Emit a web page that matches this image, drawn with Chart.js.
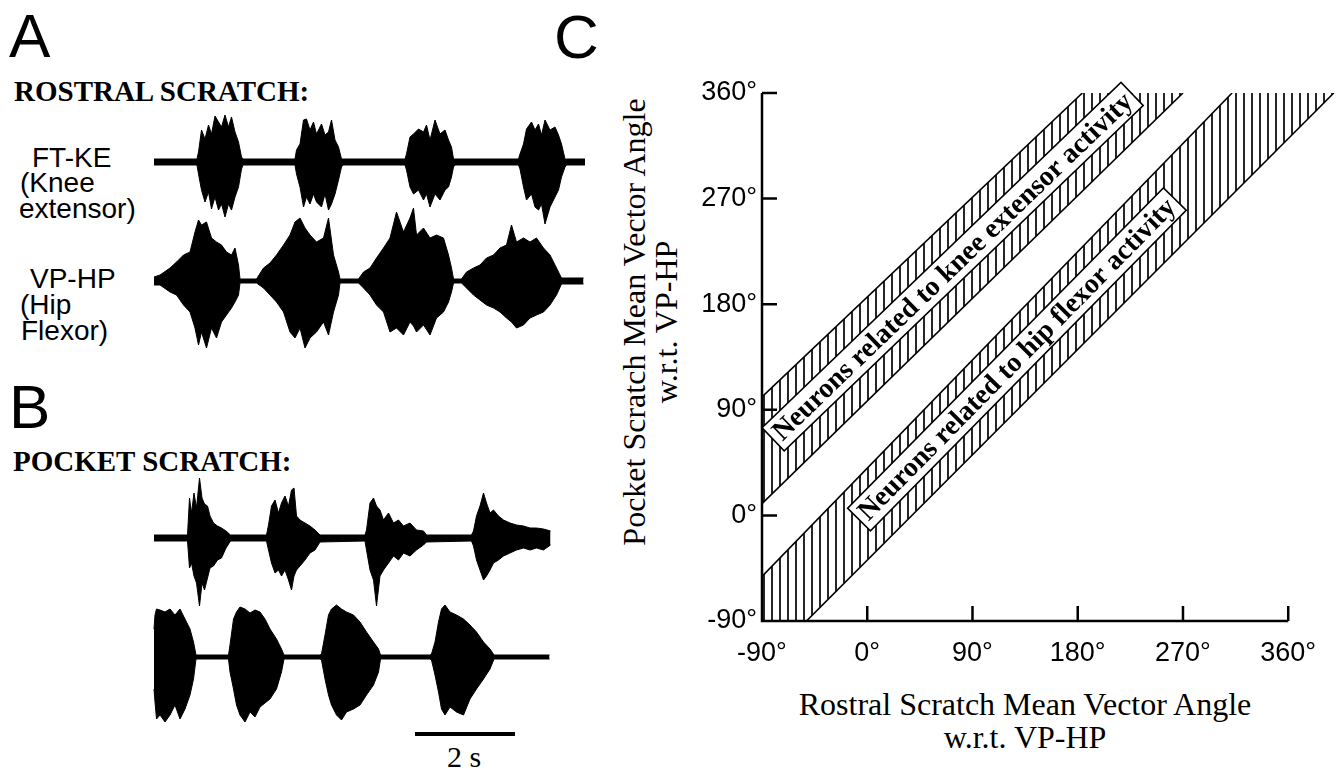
<!DOCTYPE html>
<html>
<head>
<meta charset="utf-8">
<script src="https://cdn.jsdelivr.net/npm/chart.js@4.4.1/dist/chart.umd.min.js"></script>
<style>
  html, body { margin: 0; padding: 0; background: #fff; }
  body { width: 1339px; height: 770px; position: relative; overflow: hidden; }
  canvas { position: absolute; }
  .t { position: absolute; white-space: nowrap; color: #000; line-height: 1; }
  .sans { font-family: 'Liberation Sans', Arial, sans-serif; }
  .serif { font-family: 'Liberation Serif', 'Times New Roman', serif; }
  .big { font-size: 62px; }
  .head { font-size: 29px; font-weight: bold; }
  .lab { font-size: 28px; }
</style>
</head>
<body>

<div class="t sans big" style="left:9px;top:5px">A</div>
<div class="t serif head" style="left:14px;top:77px">ROSTRAL SCRATCH:</div>
<div class="t sans lab" style="left:32px;top:144px">FT-KE</div>
<div class="t sans lab" style="left:20px;top:169px">(Knee</div>
<div class="t sans lab" style="left:19px;top:195px">extensor)</div>
<div class="t sans lab" style="left:30px;top:265px">VP-HP</div>
<div class="t sans lab" style="left:20px;top:291px">(Hip</div>
<div class="t sans lab" style="left:21px;top:317px">Flexor)</div>

<div class="t sans big" style="left:9px;top:376px">B</div>
<div class="t serif head" style="left:13px;top:447px">POCKET SCRATCH:</div>
<div class="t serif" style="left:414px;top:742px;width:100px;text-align:center;font-size:30px">2 s</div>

<div class="t sans big" style="left:554px;top:6px">C</div>
<div class="t serif" style="left:390px;top:290px;width:520px;height:64px;line-height:32px;font-size:32px;text-align:center;transform:rotate(-90deg)">Pocket Scratch Mean Vector Angle<br>w.r.t. VP-HP</div>
<div class="t serif" style="left:725px;top:688px;width:600px;line-height:33px;font-size:32px;text-align:center">Rostral Scratch Mean Vector Angle<br>w.r.t. VP-HP</div>

<canvas id="ftkeRostral" width="450" height="180" style="left:144px;top:72px"></canvas>
<canvas id="vphpRostral" width="450" height="180" style="left:144px;top:191px"></canvas>
<canvas id="ftkePocket" width="450" height="180" style="left:144px;top:448px"></canvas>
<canvas id="vphpPocket" width="450" height="180" style="left:144px;top:567px"></canvas>
<canvas id="phase" width="779" height="770" style="left:560px;top:0px"></canvas>

<script>
Chart.defaults.font.family = "'Liberation Sans', Arial, sans-serif";
Chart.defaults.color = '#000';

// EMG envelopes, time in s, amplitude in trace units (upper / lower edge of the burst)
// A: rostral scratch, FT-KE
const ftkeRostralT = [0, 0.86, 0.89, 0.95, 1.02, 1.09, 1.15, 1.22, 1.29, 1.35, 1.42, 1.49, 1.55, 1.62, 1.69, 1.75, 1.78,
  2.82, 2.85, 2.92, 2.99, 3.05, 3.12, 3.19, 3.25, 3.35, 3.42, 3.49, 3.55, 3.62, 3.69, 3.75, 3.78,
  5.02, 5.05, 5.12, 5.19, 5.29, 5.39, 5.45, 5.52, 5.62, 5.72, 5.82, 5.89, 5.95, 5.99, 6.02,
  7.29, 7.32, 7.39, 7.45, 7.55, 7.62, 7.69, 7.75, 7.82, 7.92, 8.02, 8.09, 8.15, 8.22, 8.25, 8.62];
const ftkeRostralHi = [3, 3, 10, 32, 23, 37, 28, 46, 40, 35, 47, 35, 45, 30, 20, 5, 3,
  3, 12, 18, 42, 43, 32, 40, 28, 38, 27, 30, 42, 22, 15, 3, 3,
  3, 8, 25, 28, 33, 30, 37, 22, 42, 28, 32, 22, 15, 3, 3,
  3, 8, 18, 33, 40, 32, 38, 27, 42, 32, 35, 27, 18, 3, 3, 3];
const ftkeRostralLo = [-3, -3, -12, -28, -40, -30, -47, -35, -48, -42, -55, -42, -48, -35, -25, -7, -3,
  -3, -12, -25, -45, -35, -42, -32, -40, -45, -32, -48, -42, -32, -18, -5, -3,
  -3, -8, -25, -32, -28, -38, -32, -45, -32, -38, -28, -25, -15, -5, -3,
  -3, -7, -25, -38, -32, -45, -48, -42, -62, -45, -35, -28, -15, -5, -3, -3];

// A: rostral scratch, VP-HP
const vphpRostralT = [0, 0.12, 0.32, 0.45, 0.59, 0.72, 0.82, 0.89, 0.95, 1.05, 1.15, 1.25, 1.35, 1.45, 1.55, 1.62, 1.69, 1.72,
  2.05, 2.19, 2.32, 2.45, 2.59, 2.72, 2.82, 2.92, 3.02, 3.12, 3.25, 3.39, 3.49, 3.59, 3.69, 3.72,
  4.09, 4.19, 4.32, 4.45, 4.59, 4.72, 4.85, 4.99, 5.12, 5.19, 5.25, 5.39, 5.52, 5.65, 5.79, 5.89, 5.95, 5.99,
  6.15, 6.25, 6.39, 6.52, 6.65, 6.79, 6.92, 7.05, 7.15, 7.25, 7.39, 7.52, 7.65, 7.79, 7.92, 8.05, 8.15, 8.59];
const vphpRostralHi = [4, 6, 13, 19, 26, 29, 49, 61, 56, 59, 43, 39, 36, 29, 26, 33, 16, 2,
  2, 13, 18, 26, 36, 46, 59, 63, 53, 46, 39, 43, 63, 26, 9, 2,
  2, 9, 13, 23, 33, 43, 69, 49, 63, 73, 46, 53, 43, 46, 43, 26, 13, 2,
  2, 9, 13, 16, 23, 26, 33, 36, 56, 39, 43, 39, 43, 33, 26, 13, 3, 3];
const vphpRostralLo = [-4, -4, -11, -14, -24, -31, -47, -64, -51, -67, -47, -57, -41, -34, -27, -21, -14, -2,
  -2, -7, -14, -21, -31, -51, -57, -47, -67, -57, -51, -41, -54, -31, -14, -2,
  -2, -7, -14, -24, -31, -51, -47, -54, -41, -45, -51, -44, -54, -37, -31, -21, -11, -2,
  -2, -7, -14, -19, -24, -27, -31, -37, -41, -47, -44, -37, -34, -31, -24, -14, -3, -3];

// B: pocket scratch, FT-KE
const ftkePocketT = [0, 0.67, 0.71, 0.75, 0.80, 0.85, 0.91, 0.96, 1.01, 1.07, 1.12, 1.19, 1.27, 1.35, 1.44, 1.53,
  2.25, 2.29, 2.35, 2.42, 2.49, 2.55, 2.62, 2.69, 2.75, 2.80, 2.85, 2.92, 3.02, 3.12, 3.22, 3.32,
  4.22, 4.25, 4.32, 4.39, 4.45, 4.52, 4.59, 4.69, 4.79, 4.89, 4.99, 5.12, 5.25, 5.39, 5.45,
  6.35, 6.39, 6.45, 6.52, 6.59, 6.65, 6.72, 6.79, 6.89, 6.99, 7.12, 7.25, 7.39, 7.52, 7.65, 7.79, 7.93];
const ftkePocketHi = [3, 3, 40, 25, 45, 30, 60, 40, 34, 32, 22, 15, 12, 10, 7, 3,
  3, 13, 32, 38, 25, 35, 42, 32, 48, 50, 22, 18, 15, 12, 8, 3,
  3, 8, 35, 40, 32, 28, 18, 25, 15, 18, 12, 15, 8, 7, 3,
  3, 7, 22, 32, 45, 35, 25, 28, 22, 18, 15, 13, 12, 10, 10, 9, 7];
const ftkePocketLo = [-3, -3, -30, -25, -38, -45, -68, -45, -52, -40, -30, -28, -22, -20, -10, -3,
  -3, -12, -25, -35, -32, -38, -32, -42, -52, -38, -32, -28, -22, -15, -12, -4,
  -3, -12, -32, -42, -68, -38, -32, -25, -18, -22, -15, -18, -12, -7, -4,
  -3, -8, -22, -32, -42, -38, -32, -25, -22, -18, -15, -12, -10, -12, -10, -12, -7];

// B: pocket scratch, VP-HP
const vphpPocketT = [0, 0.02, 0.05, 0.12, 0.22, 0.32, 0.42, 0.52, 0.62, 0.72, 0.79, 0.84,
  1.49, 1.52, 1.59, 1.65, 1.72, 1.82, 1.92, 2.02, 2.12, 2.22, 2.32, 2.45, 2.55, 2.60,
  3.32, 3.35, 3.42, 3.49, 3.55, 3.65, 3.75, 3.85, 3.99, 4.12, 4.25, 4.39, 4.49, 4.53,
  5.52, 5.55, 5.62, 5.69, 5.75, 5.82, 5.92, 6.05, 6.19, 6.32, 6.45, 6.59, 6.72, 6.80, 7.91];
const vphpPocketHi = [28, 42, 48, 47, 45, 48, 42, 48, 38, 28, 15, 2,
  2, 12, 38, 45, 50, 48, 44, 47, 45, 38, 28, 18, 8, 2,
  2, 3, 22, 42, 48, 52, 48, 45, 42, 35, 25, 15, 8, 2,
  2, 3, 15, 35, 48, 52, 45, 42, 38, 32, 25, 15, 8, 2, 2];
const vphpPocketLo = [-32, -45, -62, -58, -65, -58, -48, -62, -52, -38, -22, -2,
  -2, -15, -32, -48, -58, -65, -55, -60, -50, -46, -42, -32, -15, -2,
  -2, -3, -22, -38, -48, -58, -63, -55, -52, -48, -38, -28, -15, -2,
  -2, -3, -18, -35, -52, -58, -50, -55, -58, -42, -32, -22, -12, -2, -2];

// 2 s calibration bar
const scaleBarT = [5.22, 7.22];
const scaleBarY = [-77, -77];

// C: phase plot, degrees
const angleTicks = [-90, 0, 90, 180, 270, 360];
const kneeUpperX = [-90, 184];
const kneeUpperY = [101, 360];
const kneeLowerX = [-90, 270];
const kneeLowerY = [10, 360];
const hipUpperX = [-90, 312];
const hipUpperY = [-52, 360];
const hipLowerX = [-52, 399];
const hipLowerY = [-90, 360];
const bandLabelText = ['Neurons related to knee extensor activity', 'Neurons related to hip flexor activity'];
const bandLabelX = [73, 128];
const bandLabelY = [212, 133];

function pts(xs, ys) {
  return xs.map((x, i) => ({ x: x, y: ys[i] }));
}

function trace(id, t, hi, lo, extra) {
  const datasets = [
    { data: pts(t, hi), fill: '+1', backgroundColor: '#000', borderColor: '#000', borderWidth: 1 },
    { data: pts(t, lo), fill: false, borderColor: '#000', borderWidth: 1 }
  ];
  if (extra) datasets.push(extra);
  return new Chart(document.getElementById(id), {
    type: 'line',
    data: { datasets: datasets },
    options: {
      responsive: false,
      animation: false,
      events: [],
      layout: { padding: 0 },
      elements: { point: { radius: 0 }, line: { tension: 0 } },
      plugins: { legend: { display: false }, tooltip: { enabled: false } },
      scales: {
        x: { type: 'linear', min: -0.2, max: 8.8, display: false },
        y: { min: -90, max: 90, display: false }
      }
    }
  });
}

trace('ftkeRostral', ftkeRostralT, ftkeRostralHi, ftkeRostralLo);
trace('vphpRostral', vphpRostralT, vphpRostralHi, vphpRostralLo);
trace('ftkePocket', ftkePocketT, ftkePocketHi, ftkePocketLo);
trace('vphpPocket', vphpPocketT, vphpPocketHi, vphpPocketLo,
  { data: pts(scaleBarT, scaleBarY), fill: false, borderColor: '#000', borderWidth: 4 });

// vertical hatching for the bands
var phaseCanvas = document.getElementById('phase');
var tile = document.createElement('canvas');
tile.width = 8; tile.height = 8;
var tg = tile.getContext('2d');
tg.strokeStyle = '#000';
tg.lineWidth = 1.7;
tg.beginPath(); tg.moveTo(4, 0); tg.lineTo(4, 8); tg.stroke();
var hatch = phaseCanvas.getContext('2d').createPattern(tile, 'repeat');

const top360 = angleTicks[angleTicks.length - 1];
const none = 'rgba(0,0,0,0)';

const axesAndLabels = {
  id: 'axesAndLabels',
  afterDatasetsDraw(chart) {
    const ctx = chart.ctx, x = chart.scales.x, y = chart.scales.y;
    ctx.save();
    // band labels in white boxes, turned along the band
    const edges = [[kneeUpperX, kneeUpperY, kneeLowerX, kneeLowerY], [hipUpperX, hipUpperY, hipLowerX, hipLowerY]];
    ctx.font = "bold 28px 'Liberation Serif', 'Times New Roman', serif";
    bandLabelText.forEach(function(txt, i) {
      const e = edges[i];
      const a1 = Math.atan2(y.getPixelForValue(e[1][1]) - y.getPixelForValue(e[1][0]), x.getPixelForValue(e[0][1]) - x.getPixelForValue(e[0][0]));
      const a2 = Math.atan2(y.getPixelForValue(e[3][1]) - y.getPixelForValue(e[3][0]), x.getPixelForValue(e[2][1]) - x.getPixelForValue(e[2][0]));
      const w = ctx.measureText(txt).width + 10;
      const h = 32;
      ctx.save();
      ctx.translate(x.getPixelForValue(bandLabelX[i]), y.getPixelForValue(bandLabelY[i]));
      ctx.rotate((a1 + a2) / 2);
      ctx.fillStyle = '#fff';
      ctx.strokeStyle = '#000';
      ctx.lineWidth = 1.6;
      ctx.fillRect(-w / 2, -h / 2, w, h);
      ctx.strokeRect(-w / 2, -h / 2, w, h);
      ctx.fillStyle = '#000';
      ctx.textAlign = 'center';
      ctx.textBaseline = 'middle';
      ctx.fillText(txt, 0, 1);
      ctx.restore();
    });
    // axes with inside ticks
    const x0 = x.getPixelForValue(angleTicks[0]), x1 = x.getPixelForValue(top360);
    const y0 = y.getPixelForValue(angleTicks[0]), y1 = y.getPixelForValue(top360);
    ctx.strokeStyle = '#000';
    ctx.lineWidth = 2.5;
    ctx.beginPath();
    ctx.moveTo(x0, y1); ctx.lineTo(x0, y0); ctx.lineTo(x1, y0);
    angleTicks.slice(1).forEach(function(v) {
      const px = x.getPixelForValue(v), py = y.getPixelForValue(v);
      ctx.moveTo(px, y0); ctx.lineTo(px, y0 - 15);
      ctx.moveTo(x0, py); ctx.lineTo(x0 + 15, py);
    });
    ctx.stroke();
    ctx.restore();
  }
};

new Chart(phaseCanvas, {
  type: 'line',
  data: {
    datasets: [
      { data: pts(kneeUpperX.concat([kneeLowerX[1]]), kneeUpperY.concat([top360])), fill: '+1', backgroundColor: hatch, borderColor: none, borderWidth: 0 },
      { data: pts(kneeLowerX, kneeLowerY), fill: false, borderColor: none, borderWidth: 0 },
      { data: pts(hipUpperX.concat([hipLowerX[1]]), hipUpperY.concat([top360])), fill: '+1', backgroundColor: hatch, borderColor: none, borderWidth: 0 },
      { data: pts([angleTicks[0]].concat(hipLowerX), [angleTicks[0]].concat(hipLowerY)), fill: false, borderColor: none, borderWidth: 0 },
      { data: pts(kneeUpperX, kneeUpperY), fill: false, borderColor: '#000', borderWidth: 1.6 },
      { data: pts(kneeLowerX, kneeLowerY), fill: false, borderColor: '#000', borderWidth: 1.6 },
      { data: pts(hipUpperX, hipUpperY), fill: false, borderColor: '#000', borderWidth: 1.6 },
      { data: pts(hipLowerX, hipLowerY), fill: false, borderColor: '#000', borderWidth: 1.6 }
    ]
  },
  options: {
    responsive: false,
    animation: false,
    events: [],
    layout: { padding: { top: 93, right: 4, left: 0, bottom: 0 } },
    elements: { point: { radius: 0 }, line: { tension: 0 } },
    plugins: { legend: { display: false }, tooltip: { enabled: false } },
    scales: {
      x: {
        type: 'linear', min: -90, max: 400,
        afterBuildTicks: function(s) { s.ticks = angleTicks.map(function(v) { return { value: v }; }); },
        afterFit: function(s) { s.height = 149; },
        grid: { display: false, drawTicks: false },
        border: { display: false },
        ticks: { autoSkip: false, maxRotation: 0, padding: 16, font: { size: 27 }, callback: function(v) { return v + '°'; } }
      },
      y: {
        min: -90, max: 360,
        afterBuildTicks: function(s) { s.ticks = angleTicks.map(function(v) { return { value: v }; }); },
        afterFit: function(s) { s.width = 202; },
        grid: { display: false, drawTicks: false },
        border: { display: false },
        ticks: { padding: 5, font: { size: 27 }, callback: function(v) { return v + '°'; } }
      }
    }
  },
  plugins: [axesAndLabels]
});
</script>
</body>
</html>
